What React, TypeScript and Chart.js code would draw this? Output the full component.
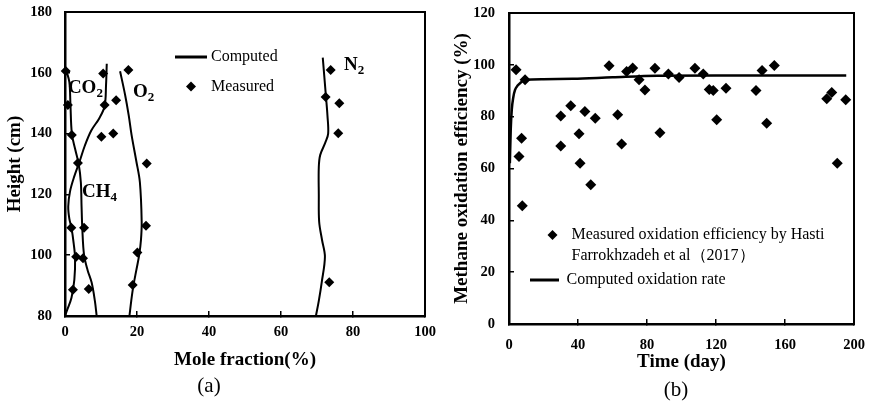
import React, { useEffect, useRef } from "react";
import { Chart, registerables } from "chart.js";
Chart.register(...registerables);

const SERIF = "'Liberation Serif', 'Times New Roman', serif";

// ---------- Panel (a): gas profiles ----------
const A_X_TICKS = [0, 20, 40, 60, 80, 100];
const A_Y_TICKS = [80, 100, 120, 140, 160, 180];

const CO2_X = [0.3, 1.2, 1.5, 1.9, 2.8, 3.8, 4.4, 4.6, 4.8, 5.3, 6.3, 7.4, 8.3, 8.8];
const CO2_H = [161, 157, 150, 140, 135, 130, 124, 116, 109, 100, 95, 91, 85, 80];

const CH4_X = [11.6, 11.4, 11.0, 9.5, 7.3, 5.5, 4.1, 2.6, 1.4, 0.9, 1.2, 1.8, 2.4, 2.8, 2.6, 1.8, 0.6, 0];
const CH4_H = [163, 156, 149, 145, 141, 136, 131, 126, 121, 116, 112, 109, 104, 99, 92, 86, 82, 80];

const O2_X = [15.3, 16.7, 17.7, 18.5, 19.8, 20.8, 21.3, 21.1, 20.6, 19.8, 19.0, 18.4, 17.9];
const O2_H = [160.5, 152.7, 146, 139.5, 131, 124, 111, 105, 100, 95, 90, 85, 80];

const N2_X = [69.7, 70.5, 71.3, 72.2, 71.4, 70.6, 70.5, 70.5, 70.9, 72.3, 73.1, 72.9, 72.5, 71.6];
const N2_H = [80, 85, 91, 99.5, 105, 111, 120, 129, 133, 137, 140, 146, 152, 165];

const MEAS_A_X = [0.2, 0.8, 1.9, 3.6, 5.3, 5.0, 6.6, 10.6, 11.0, 10.1, 1.75, 3.1, 2.2, 17.6, 14.2, 13.4, 22.7, 22.5, 20.1, 18.8, 73.8, 72.4, 76.2, 75.9, 73.4];
const MEAS_A_H = [160.6, 149.4, 139.5, 130.3, 109, 99, 88.9, 159.8, 149.4, 139, 109, 99.5, 88.6, 160.9, 151, 140, 130.2, 109.7, 100.9, 90.2, 160.9, 152, 150, 140.1, 91.1];

// ---------- Panel (b): methane oxidation efficiency ----------
const B_X_TICKS = [0, 40, 80, 120, 160, 200];
const B_Y_TICKS = [0, 20, 40, 60, 80, 100, 120];

const MEAS_B_T = [4.1, 5.8, 7.3, 7.7, 9.3, 30, 30, 35.8, 40.6, 41.2, 44, 47.4, 50, 58, 63, 65.3, 68.2, 71.7, 75.4, 78.8, 84.6, 87.5, 92.4, 98.6, 107.8, 112.6, 116.1, 118.4, 120.4, 125.8, 143.2, 146.7, 149.4, 153.8, 184.2, 187.1, 190.3, 195.2];
const MEAS_B_E = [98.1, 64.6, 71.7, 45.6, 94.2, 80.3, 68.7, 84.2, 73.4, 62, 82, 53.7, 79.4, 99.6, 80.7, 69.5, 97.4, 98.8, 94.2, 90.3, 98.7, 73.8, 96.5, 95.1, 98.7, 96.5, 90.5, 90.1, 78.8, 91, 90.1, 97.8, 77.5, 99.7, 86.9, 89.3, 62, 86.5];

const COMP_B_T = [0.5, 1, 1.6, 2.5, 3.5, 5, 6.4, 9.3, 20, 37, 60, 86, 120, 160, 195.5];
const COMP_B_E = [62, 75, 82.6, 87.5, 90.3, 92, 92.9, 94.2, 94.4, 94.6, 95.2, 95.8, 95.9, 95.9, 95.9];

const pts = (xs: number[], ys: number[]) => xs.map((x, i) => ({ x, y: ys[i] }));

const boxPlugin = {
  id: "box",
  afterDraw(chart: any) {
    const { ctx, chartArea: a } = chart;
    ctx.save();
    ctx.strokeStyle = "#000";
    ctx.lineWidth = 2;
    ctx.strokeRect(a.left, a.top, a.right - a.left, a.bottom - a.top);
    ctx.restore();
  },
};

function drawChem(ctx: any, main: string, sub: string, x: number, y: number) {
  ctx.font = `bold 19px ${SERIF}`;
  ctx.textBaseline = "middle";
  ctx.textAlign = "left";
  ctx.fillText(main, x, y);
  const w = ctx.measureText(main).width;
  ctx.font = `bold 13px ${SERIF}`;
  ctx.fillText(sub, x + w, y + 6);
}

function diamond(ctx: any, x: number, y: number, r: number) {
  ctx.beginPath();
  ctx.moveTo(x, y - r);
  ctx.lineTo(x + r, y);
  ctx.lineTo(x, y + r);
  ctx.lineTo(x - r, y);
  ctx.closePath();
  ctx.fill();
}

const annotA = {
  id: "annotA",
  afterDraw(chart: any) {
    const { ctx } = chart;
    const sx = chart.scales.x;
    const sy = chart.scales.y;
    ctx.save();
    ctx.fillStyle = "#000";
    ctx.strokeStyle = "#000";
    drawChem(ctx, "CO", "2", sx.getPixelForValue(0.8), sy.getPixelForValue(155));
    drawChem(ctx, "O", "2", sx.getPixelForValue(18.9), sy.getPixelForValue(153.7));
    drawChem(ctx, "CH", "4", sx.getPixelForValue(4.7), sy.getPixelForValue(120.8));
    drawChem(ctx, "N", "2", sx.getPixelForValue(77.5), sy.getPixelForValue(162.6));
    // legend
    ctx.lineWidth = 3;
    ctx.beginPath();
    ctx.moveTo(175, 57);
    ctx.lineTo(207, 57);
    ctx.stroke();
    diamond(ctx, 191, 86.5, 5);
    ctx.font = `16px ${SERIF}`;
    ctx.textBaseline = "middle";
    ctx.fillText("Computed", 211, 57);
    ctx.fillText("Measured", 211, 87);
    // panel label
    ctx.font = `21px ${SERIF}`;
    ctx.textAlign = "center";
    ctx.fillText("(a)", 209, 386);
    ctx.restore();
  },
};

const annotB = {
  id: "annotB",
  afterDraw(chart: any) {
    const { ctx } = chart;
    ctx.save();
    ctx.fillStyle = "#000";
    ctx.strokeStyle = "#000";
    diamond(ctx, 116.5, 235, 5);
    ctx.lineWidth = 3;
    ctx.beginPath();
    ctx.moveTo(94, 280);
    ctx.lineTo(123, 280);
    ctx.stroke();
    ctx.font = `16px ${SERIF}`;
    ctx.textBaseline = "middle";
    ctx.textAlign = "left";
    ctx.fillText("Measured oxidation efficiency by Hasti", 135.5, 235);
    ctx.fillText("Farrokhzadeh et al（2017）", 135.5, 256);
    ctx.fillText("Computed oxidation rate", 130.5, 280);
    ctx.font = `21px ${SERIF}`;
    ctx.textAlign = "center";
    ctx.fillText("(b)", 240, 390);
    ctx.restore();
  },
};

function axis(opts: any) {
  const { min, max, tickVals, fitSize, horizontal, title, titlePad, tickPad } = opts;
  return {
    type: "linear",
    min,
    max,
    afterBuildTicks: (s: any) => {
      s.ticks = tickVals.map((v: number) => ({ value: v }));
    },
    afterFit: (s: any) => {
      if (horizontal) {
        s.height = fitSize;
        s.paddingLeft = 0;
        s.paddingRight = 0;
      } else {
        s.width = fitSize;
        s.paddingTop = 0;
        s.paddingBottom = 0;
      }
    },
    grid: { drawOnChartArea: false, drawTicks: true, tickLength: -5, color: "#000", lineWidth: 1.5 },
    border: { display: true, color: "#000", width: 2.5 },
    ticks: { padding: tickPad, color: "#000", font: { family: SERIF, size: 14.5, weight: "bold" } },
    title: {
      display: true,
      text: title,
      color: "#000",
      font: { family: SERIF, size: 19, weight: "bold" },
      padding: horizontal ? { top: 0, bottom: titlePad } : { top: titlePad, bottom: 0 },
    },
  };
}

const lineDs = (label: string, xs: number[], ys: number[]) => ({
  label,
  data: pts(xs, ys),
  showLine: true,
  borderColor: "#000",
  borderWidth: 2,
  pointRadius: 0,
  tension: 0.35,
  fill: false,
  clip: false,
});

export default function App() {
  const refA = useRef<HTMLCanvasElement>(null);
  const refB = useRef<HTMLCanvasElement>(null);

  useEffect(() => {
    const chartA = new Chart(refA.current as HTMLCanvasElement, {
      type: "scatter",
      data: {
        datasets: [
          lineDs("CO2", CO2_X, CO2_H),
          lineDs("CH4", CH4_X, CH4_H),
          lineDs("O2", O2_X, O2_H),
          lineDs("N2", N2_X, N2_H),
          {
            label: "Measured",
            data: pts(MEAS_A_X, MEAS_A_H),
            showLine: false,
            pointStyle: "rectRot",
            pointRadius: 5,
            backgroundColor: "#000",
            borderColor: "#000",
            borderWidth: 0,
            clip: false,
          },
        ],
      } as any,
      options: {
        responsive: false,
        animation: false,
        events: [],
        layout: { padding: { top: 12, right: 11, left: 0, bottom: 0 } },
        plugins: { legend: { display: false }, tooltip: { enabled: false } },
        scales: {
          x: axis({ min: 0, max: 100, tickVals: A_X_TICKS, fitSize: 94, horizontal: true, title: "Mole fraction(%)", titlePad: 39, tickPad: 13 }),
          y: axis({ min: 80, max: 180, tickVals: A_Y_TICKS, fitSize: 65, horizontal: false, title: "Height (cm)", titlePad: 4, tickPad: 18 }),
        },
      } as any,
      plugins: [boxPlugin, annotA],
    });

    const chartB = new Chart(refB.current as HTMLCanvasElement, {
      type: "scatter",
      data: {
        datasets: [
          {
            label: "Computed oxidation rate",
            data: pts(COMP_B_T, COMP_B_E),
            showLine: true,
            borderColor: "#000",
            borderWidth: 2.5,
            pointRadius: 0,
            cubicInterpolationMode: "monotone",
            fill: false,
            clip: false,
          },
          {
            label: "Measured oxidation efficiency",
            data: pts(MEAS_B_T, MEAS_B_E),
            showLine: false,
            pointStyle: "rectRot",
            pointRadius: 5.5,
            backgroundColor: "#000",
            borderColor: "#000",
            borderWidth: 0,
            clip: false,
          },
        ],
      } as any,
      options: {
        responsive: false,
        animation: false,
        events: [],
        layout: { padding: { top: 13, right: 18, left: 0, bottom: 0 } },
        plugins: { legend: { display: false }, tooltip: { enabled: false } },
        scales: {
          x: axis({ min: 0, max: 200, tickVals: B_X_TICKS, fitSize: 86, horizontal: true, title: "Time (day)", titlePad: 36.6, tickPad: 17.3 }),
          y: axis({ min: 0, max: 120, tickVals: B_Y_TICKS, fitSize: 73, horizontal: false, title: "Methane oxidation efficiency (%)", titlePad: 14.6, tickPad: 19 }),
        },
      } as any,
      plugins: [boxPlugin, annotB],
    });

    return () => {
      chartA.destroy();
      chartB.destroy();
    };
  }, []);

  return (
    <div style={{ position: "absolute", left: 0, top: 0, width: 872, height: 410, background: "#fff" }}>
      <canvas ref={refA} width={436} height={410} style={{ position: "absolute", left: 0, top: 0, width: 436, height: 410 }} />
      <canvas ref={refB} width={436} height={410} style={{ position: "absolute", left: 436, top: 0, width: 436, height: 410 }} />
    </div>
  );
}
